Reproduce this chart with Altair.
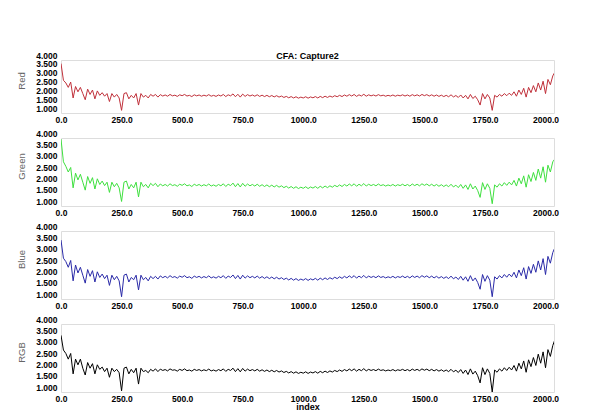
import altair as alt
import pandas as pd

index = list(range(0, 2041, 10))

red = [3.80, 2.85, 2.70, 2.45, 2.75, 1.85, 2.50, 2.20, 2.45, 2.10, 1.75, 2.35, 2.05, 2.30, 1.80, 2.25, 2.00, 2.15, 1.95, 2.10,
       1.65, 2.10, 1.90, 2.05, 1.85, 1.15, 2.10, 2.15, 1.80, 2.00, 1.85, 2.10, 1.45, 2.10, 1.90, 2.00, 1.85, 2.05, 1.95, 2.05, 1.90,
       2.04, 1.96, 2.02, 1.95, 2.05, 1.97, 2.01, 1.94, 2.03, 1.98, 2.05, 1.96, 2.00, 1.93, 2.03, 1.97, 2.02, 1.95, 2.01, 1.96,
       2.04, 1.95, 2.00, 1.94, 2.02, 1.96, 2.05, 1.93, 2.03, 1.97, 2.08, 1.92, 2.06, 1.90, 2.07, 1.94, 2.04, 1.96, 2.02, 1.95,
       2.03, 1.94, 2.01, 1.93, 2.00, 1.92, 1.99, 1.91, 1.98, 1.90,
       1.96, 1.88, 1.94, 1.86, 1.93, 1.85, 1.92, 1.84, 1.90, 1.85, 1.92, 1.84, 1.91, 1.86, 1.93, 1.85, 1.94, 1.87, 1.95, 1.88,
       1.96, 1.90, 1.98, 1.92, 2.00, 1.93, 2.02, 1.95, 2.04, 1.96, 2.05, 1.94, 2.03, 1.96, 2.06, 1.95, 2.03, 1.97, 2.02, 1.96,
       2.04, 1.97, 2.01, 1.95, 2.00, 1.96, 2.02, 1.95, 2.01, 1.97, 2.03, 1.96, 2.02, 1.95, 2.04, 1.97, 2.03, 1.96, 2.05, 1.98,
       2.04, 1.96, 2.03, 1.95, 2.02, 1.94, 2.01, 1.93, 2.00, 1.92, 2.03, 1.91, 1.99, 1.88, 2.02,
       1.85, 2.00, 1.80, 2.05, 1.82, 1.95, 1.75, 1.45, 2.10, 1.80, 2.05, 1.85, 1.15, 2.00, 1.90,
       2.05, 1.95, 2.10, 1.98, 2.12, 2.00, 2.20, 1.95, 2.30, 2.05, 2.40, 1.90, 2.45, 2.15, 2.55, 2.20, 2.70, 2.30, 2.80, 2.10,
       2.90, 2.60, 3.10, 3.35]

green = [3.95, 2.95, 2.75, 2.50, 2.70, 1.80, 2.45, 2.15, 2.40, 2.05, 1.70, 2.30, 2.00, 2.25, 1.75, 2.20, 1.95, 2.10, 1.90, 2.05,
         1.60, 2.05, 1.85, 2.00, 1.80, 1.20, 2.05, 2.10, 1.75, 1.95, 1.80, 2.05, 1.40, 2.05, 1.85, 1.95, 1.80, 2.00, 1.90, 2.00, 1.85,
         1.97, 1.89, 1.95, 1.88, 1.98, 1.90, 1.94, 1.87, 1.96, 1.91, 1.98, 1.89, 1.93, 1.86, 1.96, 1.90, 1.95, 1.88, 1.94, 1.89,
         1.97, 1.88, 1.93, 1.87, 1.95, 1.89, 1.98, 1.86, 1.96, 1.90, 2.01, 1.85, 1.99, 1.84, 2.00, 1.87, 1.97, 1.89, 1.95, 1.88,
         1.96, 1.87, 1.94, 1.86, 1.93, 1.85, 1.92, 1.84, 1.91, 1.83,
         1.89, 1.81, 1.87, 1.79, 1.86, 1.78, 1.85, 1.77, 1.83, 1.78, 1.85, 1.77, 1.84, 1.79, 1.86, 1.78, 1.87, 1.80, 1.88, 1.81,
         1.89, 1.83, 1.91, 1.85, 1.93, 1.86, 1.95, 1.88, 1.97, 1.89, 1.98, 1.87, 1.96, 1.89, 1.99, 1.88, 1.96, 1.90, 1.95, 1.89,
         1.97, 1.90, 1.94, 1.88, 1.93, 1.89, 1.95, 1.88, 1.94, 1.90, 1.96, 1.89, 1.95, 1.88, 1.97, 1.90, 1.96, 1.89, 1.98, 1.91,
         1.97, 1.89, 1.96, 1.88, 1.95, 1.87, 1.94, 1.86, 1.93, 1.85, 1.96, 1.84, 1.92, 1.81, 1.95,
         1.78, 1.93, 1.73, 1.98, 1.75, 1.88, 1.68, 1.38, 2.03, 1.73, 1.98, 1.78, 1.10, 1.93, 1.83,
         1.98, 1.88, 2.03, 1.91, 2.05, 1.93, 2.13, 1.88, 2.23, 1.98, 2.33, 1.83, 2.38, 2.08, 2.48, 2.13, 2.63, 2.23, 2.73, 2.05,
         2.80, 2.50, 2.95, 3.10]

blue = [3.60, 2.80, 2.65, 2.40, 2.70, 1.80, 2.50, 2.15, 2.40, 2.05, 1.70, 2.30, 2.00, 2.25, 1.75, 2.20, 1.95, 2.10, 1.90, 2.05,
        1.60, 2.05, 1.85, 2.00, 1.80, 1.10, 2.05, 2.10, 1.75, 1.95, 1.85, 2.05, 1.40, 2.05, 1.85, 1.95, 1.80, 2.00, 1.90, 2.00, 1.88,
        2.02, 1.94, 2.00, 1.93, 2.03, 1.95, 1.99, 1.92, 2.01, 1.96, 2.03, 1.94, 1.98, 1.91, 2.01, 1.95, 2.00, 1.93, 1.99, 1.94,
        2.02, 1.93, 1.98, 1.92, 2.00, 1.94, 2.03, 1.91, 2.01, 1.95, 2.06, 1.90, 2.04, 1.88, 2.05, 1.92, 2.02, 1.94, 2.00, 1.93,
        2.01, 1.92, 1.99, 1.91, 1.98, 1.90, 1.97, 1.89, 1.96, 1.88,
        1.94, 1.86, 1.92, 1.84, 1.91, 1.83, 1.90, 1.82, 1.88, 1.83, 1.90, 1.82, 1.89, 1.84, 1.91, 1.83, 1.92, 1.85, 1.93, 1.86,
        1.94, 1.88, 1.96, 1.90, 1.98, 1.91, 2.00, 1.93, 2.02, 1.94, 2.03, 1.92, 2.01, 1.94, 2.04, 1.93, 2.01, 1.95, 2.00, 1.94,
        2.02, 1.95, 1.99, 1.93, 1.98, 1.94, 2.00, 1.93, 1.99, 1.95, 2.01, 1.94, 2.00, 1.93, 2.02, 1.95, 2.01, 1.94, 2.03, 1.96,
        2.02, 1.94, 2.01, 1.93, 2.00, 1.92, 1.99, 1.91, 1.98, 1.90, 2.01, 1.89, 1.97, 1.86, 2.00,
        1.83, 1.98, 1.78, 2.03, 1.80, 1.93, 1.73, 1.43, 2.08, 1.78, 2.03, 1.83, 1.10, 1.98, 1.88,
        2.03, 1.93, 2.08, 1.96, 2.10, 1.98, 2.18, 1.93, 2.28, 2.03, 2.38, 1.88, 2.43, 2.13, 2.53, 2.18, 2.68, 2.28, 2.78, 2.08,
        2.88, 2.58, 3.05, 3.30]

rgb = [3.50, 2.85, 2.70, 2.45, 2.70, 1.80, 2.45, 2.20, 2.45, 2.05, 1.75, 2.30, 2.05, 2.25, 1.80, 2.20, 2.00, 2.10, 1.90, 2.05,
       1.65, 2.05, 1.90, 2.00, 1.85, 1.05, 2.05, 2.10, 1.80, 2.00, 1.85, 2.05, 1.35, 2.05, 1.90, 1.95, 1.85, 2.00, 1.92, 2.02, 1.90,
       2.01, 1.95, 1.99, 1.93, 2.02, 1.96, 1.98, 1.92, 2.00, 1.95, 2.02, 1.94, 1.97, 1.92, 2.00, 1.95, 1.99, 1.93, 1.98, 1.94,
       2.01, 1.93, 1.97, 1.92, 1.99, 1.94, 2.02, 1.91, 2.00, 1.95, 2.05, 1.90, 2.03, 1.89, 2.04, 1.92, 2.01, 1.94, 1.99, 1.93,
       2.00, 1.92, 1.98, 1.91, 1.97, 1.90, 1.96, 1.89, 1.95, 1.88,
       1.93, 1.86, 1.91, 1.84, 1.90, 1.83, 1.89, 1.82, 1.87, 1.83, 1.89, 1.82, 1.88, 1.84, 1.90, 1.83, 1.91, 1.85, 1.92, 1.86,
       1.93, 1.88, 1.95, 1.90, 1.97, 1.91, 1.99, 1.93, 2.01, 1.94, 2.02, 1.92, 2.00, 1.94, 2.03, 1.93, 2.00, 1.95, 1.99, 1.94,
       2.01, 1.95, 1.98, 1.93, 1.97, 1.94, 1.99, 1.93, 1.98, 1.95, 2.00, 1.94, 1.99, 1.93, 2.01, 1.95, 2.00, 1.94, 2.02, 1.96,
       2.01, 1.94, 2.00, 1.93, 1.99, 1.92, 1.98, 1.91, 1.97, 1.90, 2.00, 1.89, 1.96, 1.86, 1.99,
       1.82, 1.97, 1.77, 2.02, 1.79, 1.92, 1.72, 1.40, 2.07, 1.77, 2.02, 1.82, 1.00, 1.97, 1.87,
       2.02, 1.92, 2.07, 1.95, 2.09, 1.97, 2.17, 1.92, 2.27, 2.02, 2.37, 1.87, 2.42, 2.12, 2.52, 2.17, 2.67, 2.27, 2.77, 2.07,
       2.87, 2.57, 3.05, 3.35]

x_ticks = [0, 250, 500, 750, 1000, 1250, 1500, 1750, 2000]
y_ticks = [1.0, 1.5, 2.0, 2.5, 3.0, 3.5, 4.0]

FONT = "Liberation Sans"


def panel(vals, name, color, h, x_title="", title=None):
    df = pd.DataFrame({"index": index, "v": vals})
    xaxis = alt.Axis(values=x_ticks, format=".1f", labelFlush=False, ticks=False, domain=False, grid=False,
                     labelFont=FONT, labelFontSize=8.5, labelFontWeight="bold", labelColor="#000000",
                     labelPadding=2, labelOverlap=False, title=x_title, titleFont=FONT, titleFontSize=9,
                     titleFontWeight="bold", titleColor="#000000", titlePadding=0)
    yaxis = alt.Axis(values=y_ticks, format=".3f", ticks=False, domain=False, grid=False,
                     labelFont=FONT, labelFontSize=8.5, labelFontWeight="bold", labelColor="#000000",
                     labelBaseline="bottom", labelPadding=4, labelOverlap=False, labelFlush=False,
                     title=name, titleFont=FONT, titleFontSize=9.5, titleFontWeight="normal",
                     titleColor="#666666", titlePadding=9, titleY=h / 2 - 6)
    ch = alt.Chart(df).mark_line(color=color, strokeWidth=1, clip=True).encode(
        x=alt.X("index:Q", scale=alt.Scale(domain=[0, 2035], nice=False, zero=False), axis=xaxis),
        y=alt.Y("v:Q", scale=alt.Scale(domain=[1, 4], nice=False, zero=False), axis=yaxis),
    )
    props = dict(width=493, height=h)
    if title:
        props["title"] = alt.Title(title, font=FONT, fontSize=9, fontWeight="bold", color="#000000",
                                   anchor="middle", frame="group", offset=-10)
    return ch.properties(**props)


chart = alt.vconcat(
    panel(red, "Red", "#c0303a", 53, title="CFA: Capture2"),
    panel(green, "Green", "#3ee03e", 68),
    panel(blue, "Blue", "#2a2aa8", 68),
    panel(rgb, "RGB", "#000000", 68, x_title="index"),
    spacing=25,
    bounds="flush",
).properties(
    padding={"left": 8, "top": 42, "right": 5, "bottom": 5}
).configure_view(
    stroke="#707070", strokeWidth=1
).configure(background="#ffffff")

chart.save("out.html", embed_options={"renderer": "svg", "actions": False})
